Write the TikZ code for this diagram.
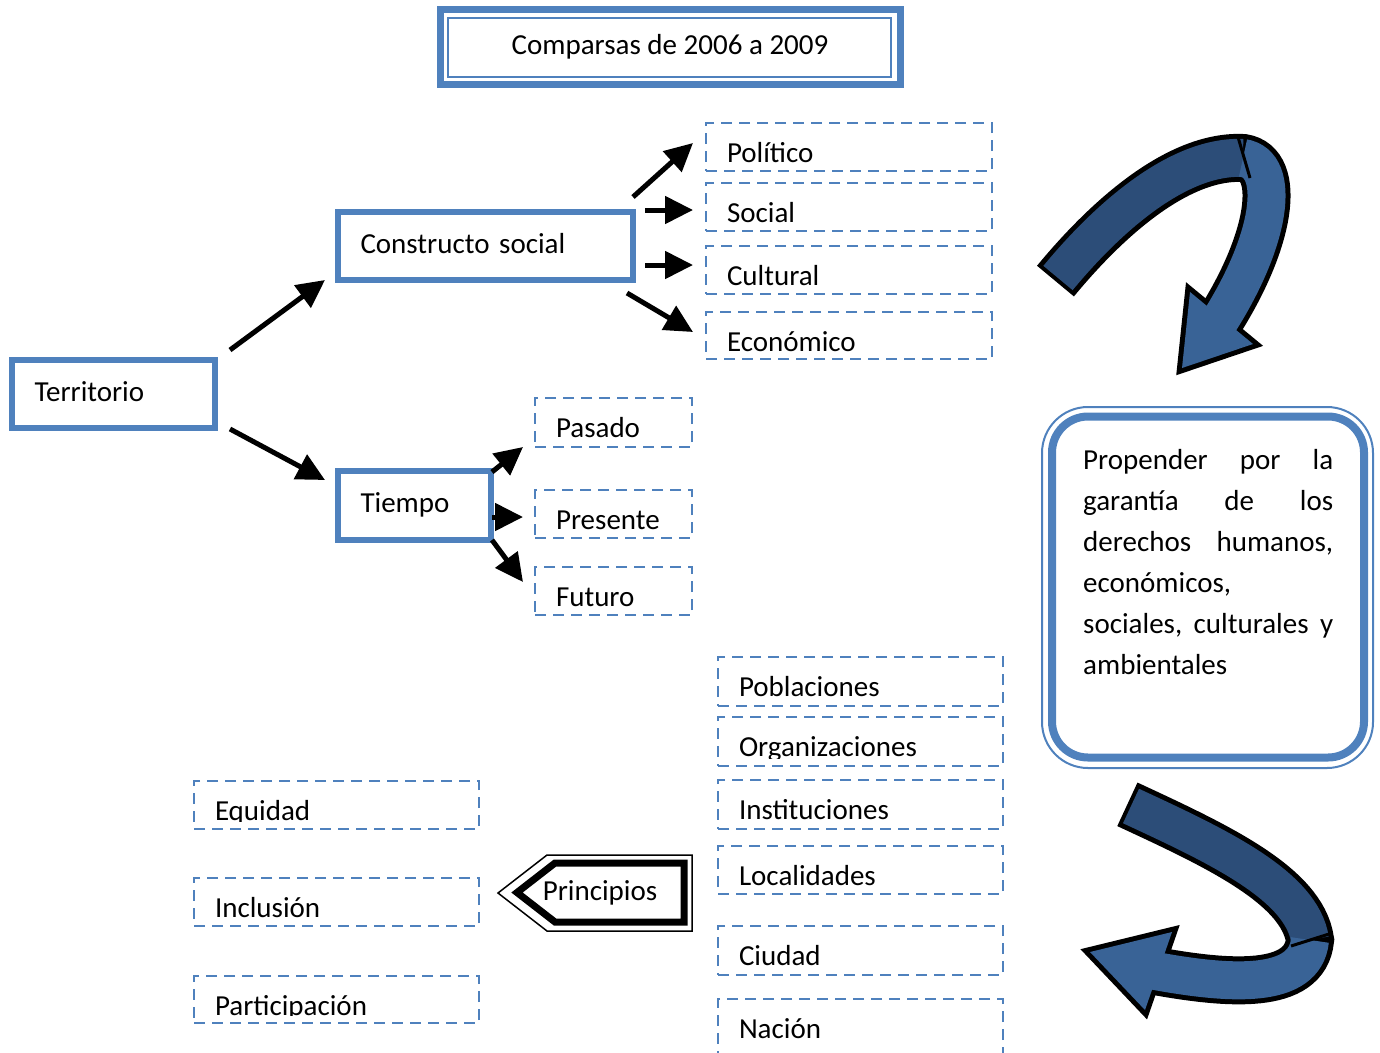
\documentclass[tikz,border=0pt]{standalone}
\usepackage{fontspec}
\setmainfont{Carlito}
\usetikzlibrary{arrows.meta}
\definecolor{azul}{RGB}{79,129,189}
\definecolor{azuloscuro}{RGB}{44,77,120}
\definecolor{azulclaro}{RGB}{57,99,150}
\newcommand{\letra}{\fontsize{29}{41}\selectfont}

\begin{document}
\begin{tikzpicture}[x=1pt,y=-1pt,font=\letra,
    caja/.style={draw=azul,line width=6pt,anchor=north west,minimum height=68,outer sep=0pt,
        inner xsep=22.5pt,text height=14pt,text depth=0pt,align=left},
    recuadro/.style={draw=azul,line width=2.5pt,dash pattern=on 11pt off 7pt,anchor=north west,
        minimum height=48,outer sep=0pt,inner sep=0pt,
        path picture={\clip (path picture bounding box.north west) rectangle ([yshift=7.5pt]path picture bounding box.south east);
            \node[anchor=base west,inner sep=0pt,minimum width=0pt,minimum height=0pt,font=\letra]
                at ([shift={(21pt,-39.5pt)}]path picture bounding box.north west) {#1};}},
    flecha/.style={line width=5pt,-{Triangle[length=28pt,width=27pt]}}]
    \useasboundingbox (0,0) rectangle (1380,1052);
    \clip (0,0) rectangle (1380,1052);

    % titulo
    \node[draw=azul,line width=7pt,minimum width=460,minimum height=75,outer sep=0pt,anchor=north west,
        text height=14pt,text depth=0pt] (titulo) at (440,9.5) {Comparsas de 2006 a 2009};
    \draw[azul,line width=2pt] ([shift={(8,8.5)}]titulo.north west) rectangle ([shift={(-9,-7.5)}]titulo.south east);

    % cajas
    \node[caja,text width=158pt] (territorio) at (12,360) {Territorio};
    \node[caja,text width=250pt] (constructo) at (338,212) {Constructo social};
    \node[caja,text width=108pt,minimum height=69] (tiempo) at (338,471) {Tiempo};

    \node[recuadro=Político,minimum width=286] (politico) at (706,123) {};
    \node[recuadro=Social,minimum width=286] (social) at (706,183) {};
    \node[recuadro=Cultural,minimum width=286] (cultural) at (706,246) {};
    \node[recuadro=Económico,minimum width=286,minimum height=47] (economico) at (706,312) {};

    \node[recuadro=Pasado,minimum width=157,minimum height=49] (pasado) at (535,398) {};
    \node[recuadro=Presente,minimum width=157] (presente) at (535,490) {};
    \node[recuadro=Futuro,minimum width=157] (futuro) at (535,567) {};

    \node[recuadro=Poblaciones,minimum width=285,minimum height=49] (poblaciones) at (718,657) {};
    \node[recuadro=Organizaciones,minimum width=285,minimum height=49] (organizaciones) at (718,717) {};
    \node[recuadro=Instituciones,minimum width=285,minimum height=49] (instituciones) at (718,780) {};
    \node[recuadro=Localidades,minimum width=285] (localidades) at (718,846) {};
    \node[recuadro=Ciudad,minimum width=285,minimum height=49] (ciudad) at (718,926) {};
    \node[recuadro=Nación,minimum width=285,minimum height=62] (nacion) at (718,999) {};

    \node[recuadro=Equidad,minimum width=285] (equidad) at (194,781) {};
    \node[recuadro=Inclusión,minimum width=285] (inclusion) at (194,878) {};
    \node[recuadro=Participación,minimum width=285,minimum height=47] (participacion) at (194,976) {};

    % flechas
    \draw[flecha] ([shift={(15,-10)}]territorio.north east) -- ([xshift=-13pt]constructo.south west);
    \draw[flecha] ([shift={(15,1)}]territorio.south east) -- ([shift={(-13,9)}]tiempo.north west);
    \draw[flecha] ([shift={(0,-15)}]constructo.north east) -- ([shift={(-13,-4)}]politico.west);
    \draw[flecha] ([shift={(12,-2)}]constructo.north east) -- ([shift={(-13,3)}]social.west);
    \draw[flecha] ([shift={(12,-15)}]constructo.south east) -- ([shift={(-13,-5)}]cultural.west);
    \draw[flecha] ([shift={(-6,13)}]constructo.south east) -- ([shift={(-13,-3.5)}]economico.west);
    \draw[flecha] ([shift={(1,1)}]tiempo.north east) -- ([xshift=-12pt]pasado.south west);
    \draw[flecha] ([shift={(1,11.5)}]tiempo.east) -- ([shift={(-12,3)}]presente.west);
    \draw[flecha] ([xshift=1pt]tiempo.south east) -- ([shift={(-12,-9)}]futuro.west);

    % principios
    \draw[line width=1.5pt] (498,893) -- (547,855) -- (692,855) -- (692,931) -- (547,931) -- cycle;
    \draw[line width=7pt] (517,892.5) -- (555,863) -- (684,863) -- (684,922) -- (555,922) -- cycle;
    \node[anchor=base] (principios) at (600,900) {Principios};

    % recuadro redondeado
    \node[draw=azul,line width=8pt,rounded corners=36pt,minimum width=312,minimum height=341,
        anchor=north west,outer sep=0pt] (derechos) at (1052,416.5) {};
    \draw[azul,line width=2pt,rounded corners=46pt] ([shift={(-10,-9.5)}]derechos.north west) rectangle ([shift={(9,10.5)}]derechos.south east);
    \node[anchor=north west,inner sep=0pt,text width=250pt,align=left] (propender) at (1083,449)
        {\makebox[250pt][l]{Propender\hfill por\hfill la}\\ \makebox[250pt][l]{garantía\hfill de\hfill los}\\
         \makebox[250pt][l]{derechos\hfill humanos,}\\ económicos,\\
         \makebox[250pt][l]{sociales,\hfill culturales\hfill y}\\ ambientales};

    % flecha curva de arriba
    \draw[line width=48pt,shorten <=-4pt] (1058,278) .. controls (1110,215) and (1180,155) .. (1243,158)
        .. controls (1282,164) and (1272,240) .. (1217,325);
    \filldraw[line width=10pt,line join=miter] (1182,368) -- (1190,292) -- (1253,344) -- cycle;
    \draw[azuloscuro,line width=38pt] (1058,278) .. controls (1110,215) and (1180,155) .. (1243,158);
    \fill[azulclaro] (1182,368) -- (1190,292) -- (1253,344) -- cycle;
    \draw[azulclaro,line width=38pt] (1243,158) .. controls (1282,164) and (1272,240) .. (1217,325);
    \draw[line width=3pt] (1238,137) -- (1250,178);

    % flecha curva de abajo
    \draw[line width=48pt,shorten <=-4pt] (1131,806) .. controls (1215,845) and (1302,885) .. (1310,940)
        .. controls (1305,990) and (1230,985) .. (1150,970);
    \filldraw[line width=10pt,line join=miter] (1090,952) -- (1172,932) -- (1145,1010) -- cycle;
    \draw[azuloscuro,line width=38pt] (1131,806) .. controls (1215,845) and (1302,885) .. (1310,940);
    \fill[azulclaro] (1090,952) -- (1172,932) -- (1145,1010) -- cycle;
    \draw[azulclaro,line width=38pt] (1310,940) .. controls (1305,990) and (1230,985) .. (1150,970);
    \draw[line width=3pt] (1291,946) -- (1329,934);
\end{tikzpicture}
\end{document}
